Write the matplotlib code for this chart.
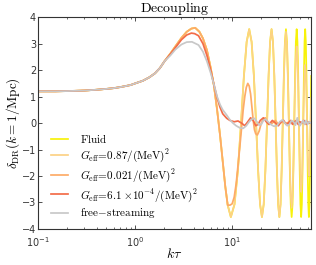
import matplotlib
matplotlib.use("Agg")
import matplotlib.pyplot as plt
from matplotlib.ticker import LogLocator, NullFormatter

plt.rcParams['mathtext.fontset'] = 'cm'
plt.rcParams['font.family'] = ['DejaVu Sans']

# ---- data ----
# shared low-k plateau / rise (all curves coincide here)
kt_early = [0.1, 0.15, 0.2, 0.3, 0.4, 0.5, 0.6, 0.7, 0.8, 0.9, 1.0, 1.2, 1.4, 1.6,
            1.8, 2.0]
d_early = [1.2, 1.2, 1.21, 1.23, 1.26, 1.29, 1.32, 1.36, 1.4, 1.44, 1.5, 1.6, 1.73, 1.88,
           2.08, 2.33]

# fluid-like peak and descent (fluid, 0.87, 0.021)
kt_desc = [2.3, 2.6, 3.0, 3.4, 3.8, 4.16, 4.6, 5.0, 5.5, 6.0, 6.5, 7.0, 7.5, 8.0, 8.5, 9.0]
d_desc = [2.62, 2.9, 3.22, 3.45, 3.57, 3.6, 3.45, 3.2, 2.75, 2.1, 1.4, 0.5, -0.45, -1.45,
          -2.4, -3.1]

# oscillation samples for fluid and G=0.87
kt_osc = [9.7, 10.58, 11.47, 12.35, 13.23, 14.12, 15.0, 15.88, 16.77, 17.65, 18.53, 19.42,
          20.3, 21.17, 22.03, 22.9, 23.77, 24.63, 25.5, 26.37, 27.23, 28.1, 28.97, 29.83,
          30.7, 31.57, 32.43, 33.3, 34.17, 35.03, 35.9, 36.77, 37.63, 38.5, 39.37, 40.23,
          41.1, 41.97, 42.83, 43.7, 44.57, 45.43, 46.3, 47.17, 48.03, 48.9, 49.77, 50.63,
          51.5, 52.37, 53.23, 54.1, 54.97, 55.83, 56.7, 57.57, 58.43, 59.3, 60.17, 61.03,
          61.9, 62.77, 63.63, 64.5, 65.37]
d_fluid = [-3.55, -3.07, -1.78, 0.0, 1.78, 3.07, 3.55, 3.07, 1.78, 0.0, -1.78, -3.07,
           -3.55, -3.07, -1.78, 0.0, 1.78, 3.07, 3.55, 3.07, 1.78, 0.0, -1.78, -3.07,
           -3.55, -3.07, -1.78, 0.0, 1.78, 3.07, 3.55, 3.07, 1.78, 0.0, -1.78, -3.07,
           -3.55, -3.07, -1.78, 0.0, 1.78, 3.07, 3.55, 3.07, 1.78, 0.0, -1.78, -3.07,
           -3.55, -3.07, -1.78, 0.0, 1.78, 3.07, 3.55, 3.07, 1.78, 0.0, -1.78, -3.07,
           -3.55, -3.07, -1.78, 0.0, 1.78]
d_g087 = [-3.55, -3.07, -1.78, 0.0, 1.78, 3.07, 3.55, 3.07, 1.78, 0.0, -1.78, -3.07,
          -3.55, -3.07, -1.78, 0.0, 1.78, 3.07, 3.55, 3.07, 1.78, 0.0, -1.78, -3.07,
          -3.55, -3.07, -1.75, 0.0, 1.72, 2.98, 3.45, 2.95, 1.65, 0.0, -1.6, -2.75,
          -3.2, -2.75, -1.55, 0.0, 1.45, 2.5, 2.9, 2.5, 1.4, 0.0, -1.3, -2.25,
          -2.6, -2.25, -1.25, 0.0, 1.1, 1.9, 2.2, 1.9, 1.05, 0.0, -1.0, -1.73,
          -2.0, -1.73, -1.0, 0.0, 0.95]

# G = 0.021 after the first trough
kt_g021 = [9.5, 10.0, 10.5, 11.0, 11.5, 12.0, 12.5, 13.0, 13.5, 14.0, 14.5, 15.0, 15.5,
           16.0, 16.5, 17.0, 17.5, 18.2, 19.0, 20.0, 21.0, 22.0, 23.0, 24.0, 26.0, 28.0,
           30.0, 33.0, 36.0, 40.0, 45.0, 50.0, 55.0, 60.0, 65.0]
d_g021 = [-3.1, -3.05, -2.8, -2.3, -1.6, -0.9, -0.2, 0.5, 1.0, 1.35, 1.5, 1.4, 1.1,
          0.6, 0.1, -0.25, -0.4, -0.45, -0.3, 0.0, 0.15, 0.2, 0.05, -0.05, 0.0, 0.1,
          -0.05, 0.05, 0.0, 0.05, 0.0, 0.03, 0.0, 0.02, 0.0]

# G = 6.1e-4 from the peak on
kt_g61 = [2.3, 2.6, 3.0, 3.4, 3.8, 4.1, 4.5, 5.0, 5.5, 6.0, 6.5, 7.0, 7.5, 8.0, 8.8, 9.5,
          10.5, 11.5, 12.5, 13.5, 14.5, 15.5, 16.5, 17.5, 18.5, 19.5, 21.0, 22.5, 24.0,
          26.0, 28.0, 30.0, 32.0, 34.0, 36.0, 38.0, 40.0, 42.0, 44.0, 46.0, 48.0, 50.0,
          52.0, 55.0, 58.0, 61.0, 65.0]
d_g61 = [2.6, 2.85, 3.15, 3.33, 3.4, 3.38, 3.3, 3.0, 2.55, 2.0, 1.45, 0.95, 0.6, 0.35,
         0.18, 0.1, 0.05, 0.08, 0.0, -0.1, 0.05, 0.2, 0.1, -0.1, -0.05, 0.1, 0.2, 0.05,
         -0.05, 0.1, 0.0, -0.1, 0.05, 0.1, -0.05, 0.0, 0.1, -0.05, 0.05, 0.1, -0.05, 0.05,
         0.0, 0.1, -0.05, 0.05, 0.0]

# free-streaming from the peak on
kt_fs = [2.3, 2.6, 3.0, 3.4, 3.85, 4.5, 5.0, 5.5, 6.0, 6.5, 7.0, 7.5, 8.0, 8.8, 9.5, 10.2,
         11.0, 12.0, 13.0, 14.0, 15.0, 16.0, 17.0, 18.0, 19.0, 20.0, 21.0, 22.0, 23.5,
         25.0, 27.0, 29.0, 31.0, 33.0, 35.0, 37.0, 39.0, 41.0, 43.0, 45.0, 47.0, 48.0,
         50.0, 52.0, 54.0, 56.0, 58.0, 60.0, 62.0, 65.0]
d_fs = [2.55, 2.78, 2.97, 3.06, 3.07, 2.95, 2.7, 2.33, 1.9, 1.45, 1.0, 0.7, 0.5, 0.3, 0.12,
        0.0, -0.1, -0.18, -0.2, -0.1, 0.05, 0.15, 0.18, 0.05, -0.08, -0.05, 0.1, 0.15,
        0.05, -0.05, -0.12, -0.1, 0.05, 0.12, 0.0, -0.1, -0.05, 0.1, 0.05, -0.08, 0.2,
        0.05, -0.1, 0.0, 0.1, -0.05, 0.1, -0.05, 0.05, 0.0]

labels = [r'$\mathrm{Fluid}$',
          r'$G_{\rm eff}\!=\!0.87/(\mathrm{MeV})^2$',
          r'$G_{\rm eff}\!=\!0.021/(\mathrm{MeV})^2$',
          r'$G_{\rm eff}\!=\!6.1\times\!10^{-4}/(\mathrm{MeV})^2$',
          r'$\mathrm{free\!-\!streaming}$']
colors = ['#f8f20a', '#fcd285', '#fdab68', '#f36c48', '#c8c8c8']

x_fluid = kt_early + kt_desc + kt_osc
y_fluid = d_early + d_desc + d_fluid
y_087 = d_early + d_desc + d_g087
x_021 = kt_early + kt_desc + kt_g021
y_021 = d_early + d_desc + d_g021
x_61 = kt_early + kt_g61
y_61 = d_early + d_g61
x_fs = kt_early + kt_fs
y_fs = d_early + d_fs

fig = plt.figure(figsize=(3.16, 2.65), dpi=100)
ax = fig.add_axes([0.121, 0.136, 0.863, 0.799])

lw = 1.25
ax.plot(x_fluid, y_fluid, color=colors[0], lw=lw, label=labels[0])
ax.plot(x_fluid, y_087, color=colors[1], lw=lw, label=labels[1])
ax.plot(x_021, y_021, color=colors[2], lw=lw, label=labels[2])
ax.plot(x_61, y_61, color=colors[3], lw=lw, label=labels[3])
ax.plot(x_fs, y_fs, color=colors[4], lw=lw, label=labels[4])

ax.set_xscale('log')
ax.set_xlim(0.1, 65)
ax.set_ylim(-4, 4)
ax.set_yticks([-4, -3, -2, -1, 0, 1, 2, 3, 4])
ax.xaxis.set_minor_locator(LogLocator(base=10, subs=range(2, 10)))
ax.xaxis.set_minor_formatter(NullFormatter())

ax.tick_params(which='both', direction='in', top=True, right=True, labelsize=7,
               colors='#333333')
ax.tick_params(which='major', length=3, width=0.6, pad=1.5)
ax.tick_params(which='minor', length=1.6, width=0.5)
ax.tick_params(axis='x', pad=4.2)
for s in ax.spines.values():
    s.set_color('#333333')
    s.set_linewidth(0.8)

ax.set_title(r'$\mathrm{Decoupling}$', fontsize=10, pad=2.5)
ax.set_xlabel(r'$k\tau$', fontsize=10, labelpad=-1)
ax.set_ylabel(r'$\delta_{\rm DR}(k=1/\mathrm{Mpc})$', fontsize=9.5, labelpad=0)

leg = ax.legend(loc='lower left', bbox_to_anchor=(0.047, 0.04), frameon=False,
                fontsize=8, handlelength=1.55, handletextpad=1.05, labelspacing=0.25,
                borderpad=0, borderaxespad=0)

fig.savefig('out.png', dpi=100)
